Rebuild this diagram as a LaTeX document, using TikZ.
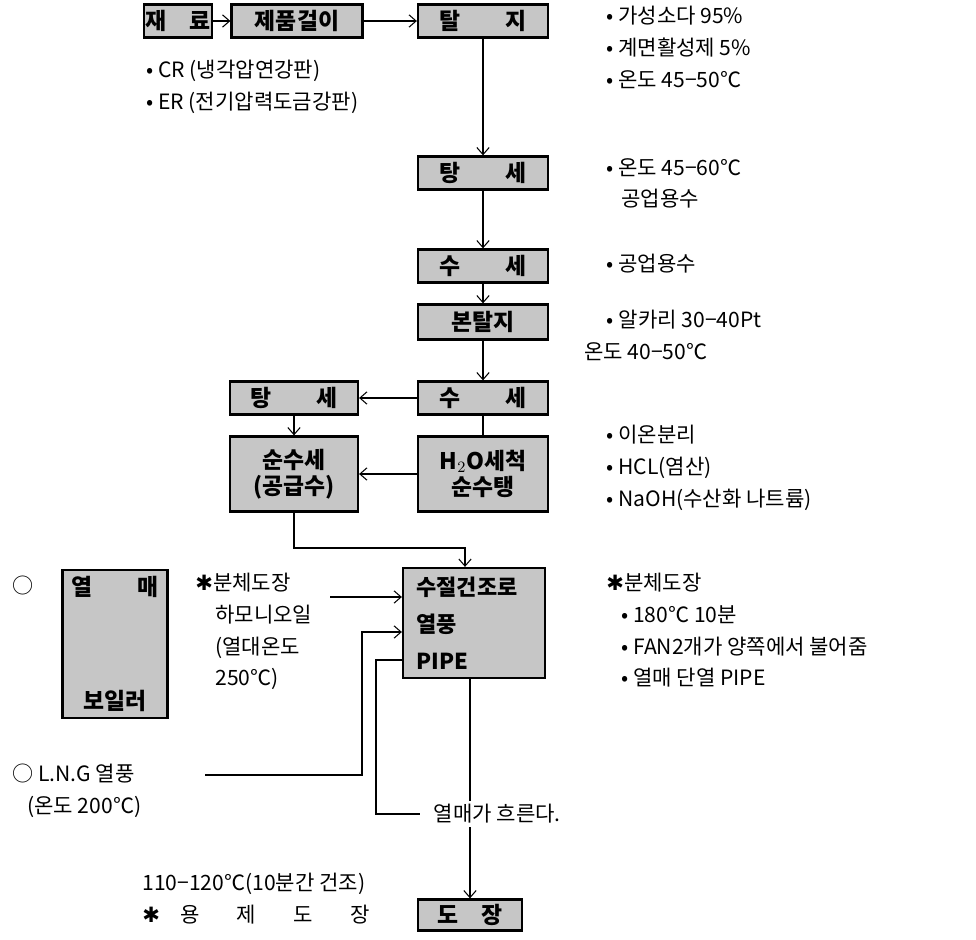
\documentclass[tikz,border=0pt]{standalone}
\usepackage{fontspec}
\usepackage{tikz}
\usetikzlibrary{arrows.meta, positioning}
\setmainfont{Noto Sans CJK KR}
\newfontfamily\symfont{DejaVu Sans}
\newcommand{\astx}{{\symfont ✱}}
\tikzstyle{stage} = [rectangle, draw=black, line width=1.3pt, fill=gray!45, minimum width=2.6cm, minimum height=0.66cm, inner sep=1pt, text centered, font=\bfseries\fontsize{13}{15}\selectfont]
\tikzstyle{note} = [inner sep=0pt, anchor=north west, align=left, font=\fontsize{12}{18}\selectfont]
\tikzstyle{arrow} = [line width=0.6pt, ->, >={Straight Barb[length=4pt,width=7pt]}]

\begin{document}
\begin{tikzpicture}[x=0.02cm, y=-0.02cm]
    \useasboundingbox (0,0) rectangle (976,939);
    % main line
    \node[stage, minimum width=1.28cm] (jaeryo) at (178,21) {재\quad 료};
    \node[stage, minimum width=2.62cm] (geori) at (297,21) {제품걸이};
    \node[stage] (talji) at (483,21) {탈\qquad 지};
    \node[stage] (tangse) at (483,173) {탕\qquad 세};
    \node[stage] (suse) at (483,266) {수\qquad 세};
    \node[stage, minimum height=0.7cm] (bontalji) at (483,322) {본탈지};
    \node[stage] (suse2) at (483,398) {수\qquad 세};
    \node[stage, minimum height=1.5cm, align=center] (h2o) at (483,474) {H$_2$O세척\\순수탱};
    \node[stage, minimum width=2.56cm] (tangseL) at (294,398) {탕\qquad 세};
    \node[stage, minimum width=2.56cm, minimum height=1.5cm, align=center] (sunsu) at (294,474) {순수세\\(공급수)};
    \node[stage, minimum width=2.84cm, minimum height=2.2cm, text width=2.3cm, inner xsep=0.27cm, align=left, font=\bfseries\fontsize{12.5}{21}\selectfont] (oven) at (474,623) {수절건조로\\열풍\\PIPE};
    \node[stage, minimum width=2.1cm, minimum height=2.96cm, align=center] (boiler) at (115,644) {열\qquad 매\\[1.75cm]보일러};
    \node[stage, minimum width=2.08cm, minimum height=0.62cm] (dojang) at (470,915) {도\quad 장};

    % notes
    \node[note] (matl) at (146,60) {• CR (냉각압연강판)\\• ER (전기압력도금강판)};
    \node[note] (chem1) at (606,6) {• 가성소다 95\%\\• 계면활성제 5\%\\• 온도 45−50℃};
    \node[note] (chem2) at (606,158) {• 온도 45−60℃\\\hspace{0.3cm}공업용수};
    \node[note] (chem3) at (606,254) {• 공업용수};
    \node[note] (chem4) at (584,310) {\hspace{0.45cm}• 알카리 30−40Pt\\온도 40−50℃};
    \node[note] (chem5) at (606,425) {• 이온분리\\• HCL(염산)\\• NaOH(수산화 나트륨)};
    \node[note] (powder) at (606,573) {\astx 분체도장\\\hspace{0.3cm}• 180℃ 10분\\\hspace{0.3cm}• FAN2개가 양쪽에서 불어줌\\\hspace{0.3cm}• 열매 단열 PIPE};
    \node[note] (oil) at (195,573) {\astx 분체도장\\\hspace{0.4cm}하모니오일\\\hspace{0.4cm}(열대온도\\\hspace{0.4cm}250℃)};
    \node[note] (ring) at (12,576) {○};
    \node[note] (lng) at (12,764) {○ L.N.G 열풍\\\hspace{0.3cm}(온도 200℃)};
    \node[note] (dry) at (142,873) {110−120℃(10분간 건조)\\\astx\hspace{0.4cm}용\hspace{0.75cm}제\hspace{0.75cm}도\hspace{0.75cm}장};

    % connectors
    \coordinate (bend) at (465,548);
    \coordinate (pw) at (330,597);
    \coordinate (lngstart) at (205,775);
    \coordinate (lngturn) at (362,775);
    \coordinate (lngin) at (362,632);
    \coordinate (pipeturn) at (376,660);
    \coordinate (pipeend) at (420,814);

    \draw[arrow] (jaeryo) -- (geori);
    \draw[arrow] (geori) -- (talji);
    \draw[arrow] (talji) -- (tangse);
    \draw[arrow] (tangse) -- (suse);
    \draw[arrow] (suse) -- (bontalji);
    \draw[arrow] (bontalji) -- (suse2);
    \draw[line width=0.6pt] (suse2) -- (h2o);
    \draw[arrow] (suse2) -- (tangseL);
    \draw[arrow] (tangseL) -- (sunsu);
    \draw[arrow] (h2o) -- (sunsu);
    \draw[arrow] (sunsu.south) |- (bend) -- (bend |- oven.north);
    \draw[arrow] (pw) -- (pw -| oven.west);
    \draw[arrow] (lngstart) -- (lngturn) -- (lngin) -- (lngin -| oven.west);
    \draw[line width=0.6pt] (pipeturn -| oven.west) -- (pipeturn) |- (pipeend);
    \draw[arrow] (dojang.north |- oven.south) -- (dojang.north);
    \node[note, anchor=west, fill=white, inner sep=2pt] (flow) at (430,814) {열매가 흐른다.};
\end{tikzpicture}
\end{document}
